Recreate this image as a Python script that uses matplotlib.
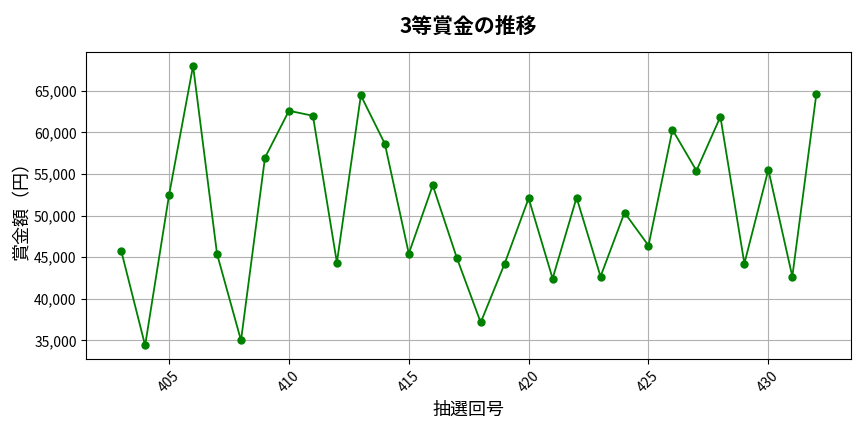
import matplotlib
matplotlib.use('Agg')
import matplotlib.pyplot as plt
from matplotlib.ticker import FuncFormatter

plt.rcParams['font.family'] = ['Noto Sans CJK JP', 'DejaVu Sans']

# 抽選回と3等賞金
draws = list(range(403, 433))
prizes = [45800, 34400, 52500, 68000, 45400, 35000, 56960, 62600, 62000, 44360,
          64440, 58640, 45440, 53640, 44960, 37160, 44240, 52080, 42440, 52160,
          42680, 50360, 46400, 60320, 55400, 61880, 44240, 55520, 42680, 64560]

fig, ax = plt.subplots(figsize=(8.64, 4.32), dpi=100)
ax.plot(draws, prizes, marker='o', color='green', markersize=5, linewidth=1.3)
ax.set_title('3等賞金の推移', fontsize=15, fontweight='bold', pad=14)
ax.set_xlabel('抽選回号', fontsize=13, labelpad=4)
ax.set_ylabel('賞金額（円）', fontsize=13, labelpad=2)
ax.yaxis.set_major_formatter(FuncFormatter(lambda v, p: f'{int(v):,}'))
plt.setp(ax.get_xticklabels(), rotation=45)
ax.grid(True, color='#b0b0b0', linewidth=0.8)
fig.subplots_adjust(left=0.1, right=0.985, top=0.88, bottom=0.168)
fig.savefig('out.png', dpi=100)
